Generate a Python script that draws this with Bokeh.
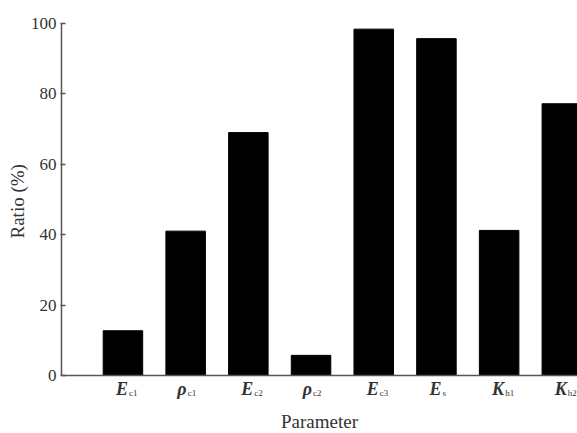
from bokeh.plotting import figure
from bokeh.models import ColumnDataSource, Range1d, FixedTicker, Span, Title
from bokeh.core.properties import value
from bokeh.embed import file_html
from bokeh.resources import INLINE

# data
positions = [1, 2, 3, 4, 5, 6, 7, 8]
main_symbols = ["E", "ρ", "E", "ρ", "E", "E", "K", "K"]
subscripts = ["c1", "c1", "c2", "c2", "c3", "s", "h1", "h2"]
ratios = [12.7, 41.0, 69.0, 5.7, 98.4, 95.7, 41.2, 77.2]
y_ticks = [0, 20, 40, 60, 80, 100]
x_title = "Parameter"
y_title = "Ratio (%)"

FONT = "Liberation Serif"
TXT = "#333333"
AXC = "#555555"

X0, X1 = 0.02, 8.25
Y0, Y1 = -16.5, 100

p = figure(width=577, height=433, output_backend="svg", toolbar_location=None,
           x_range=Range1d(X0, X1), y_range=Range1d(Y0, Y1),
           min_border_left=61, min_border_right=0, min_border_top=23, min_border_bottom=0)
p.outline_line_color = None
p.grid.grid_line_color = None
p.background_fill_color = "white"
p.border_fill_color = "white"
p.xaxis.visible = False

src = ColumnDataSource(dict(x=positions, top=ratios))
p.vbar(x="x", top="top", width=0.63, bottom=0, source=src,
       fill_color="black", line_color="black")

# baseline (x axis line at 0)
p.add_layout(Span(location=0, dimension="width", line_color=AXC, line_width=1.5))

# y axis
ya = p.yaxis[0]
ya.bounds = (0, 100)
ya.ticker = FixedTicker(ticks=y_ticks)
ya.major_label_text_font = FONT
ya.major_label_text_font_size = "17px"
ya.major_label_text_color = TXT
ya.major_label_standoff = 4
ya.axis_line_color = AXC
ya.axis_line_width = 1.5
ya.major_tick_line_color = AXC
ya.major_tick_line_width = 1.5
ya.major_tick_in = 4
ya.major_tick_out = 1
ya.minor_tick_line_color = None

# y axis title, centred on the 0..100 span of the axis
ytitle = Title(text=y_title, align="left", offset=195, text_font=FONT,
               text_font_size="19px", text_font_style="normal", text_color=TXT,
               standoff=0)
p.add_layout(ytitle, "left")

# category labels with subscripts
offs = [5 if m != "ρ" else 1 for m in main_symbols]
lab = ColumnDataSource(dict(x=positions, y=[-3.8] * len(positions), ys=[-5.1] * len(positions),
                            m=main_symbols, s=subscripts, off=offs,
                            offs=[o + 1 for o in offs]))
p.text(x="x", y="y", text="m", x_offset="off", source=lab, text_align="right",
       text_baseline="alphabetic", text_font=value(FONT), text_font_style="bold italic",
       text_font_size="18px", text_color=TXT)
p.text(x="x", y="ys", text="s", x_offset="offs", source=lab, text_align="left",
       text_baseline="alphabetic", text_font=value(FONT), text_font_style="normal",
       text_font_size="9px", text_color=TXT)

# x axis title
p.text(x=[(X0 + X1) / 2], y=[-13.2], text=[x_title], text_align="center",
       text_baseline="alphabetic", text_font=value(FONT), text_font_size="19px",
       text_color=TXT)

open("out.html", "w").write(file_html(p, INLINE))
